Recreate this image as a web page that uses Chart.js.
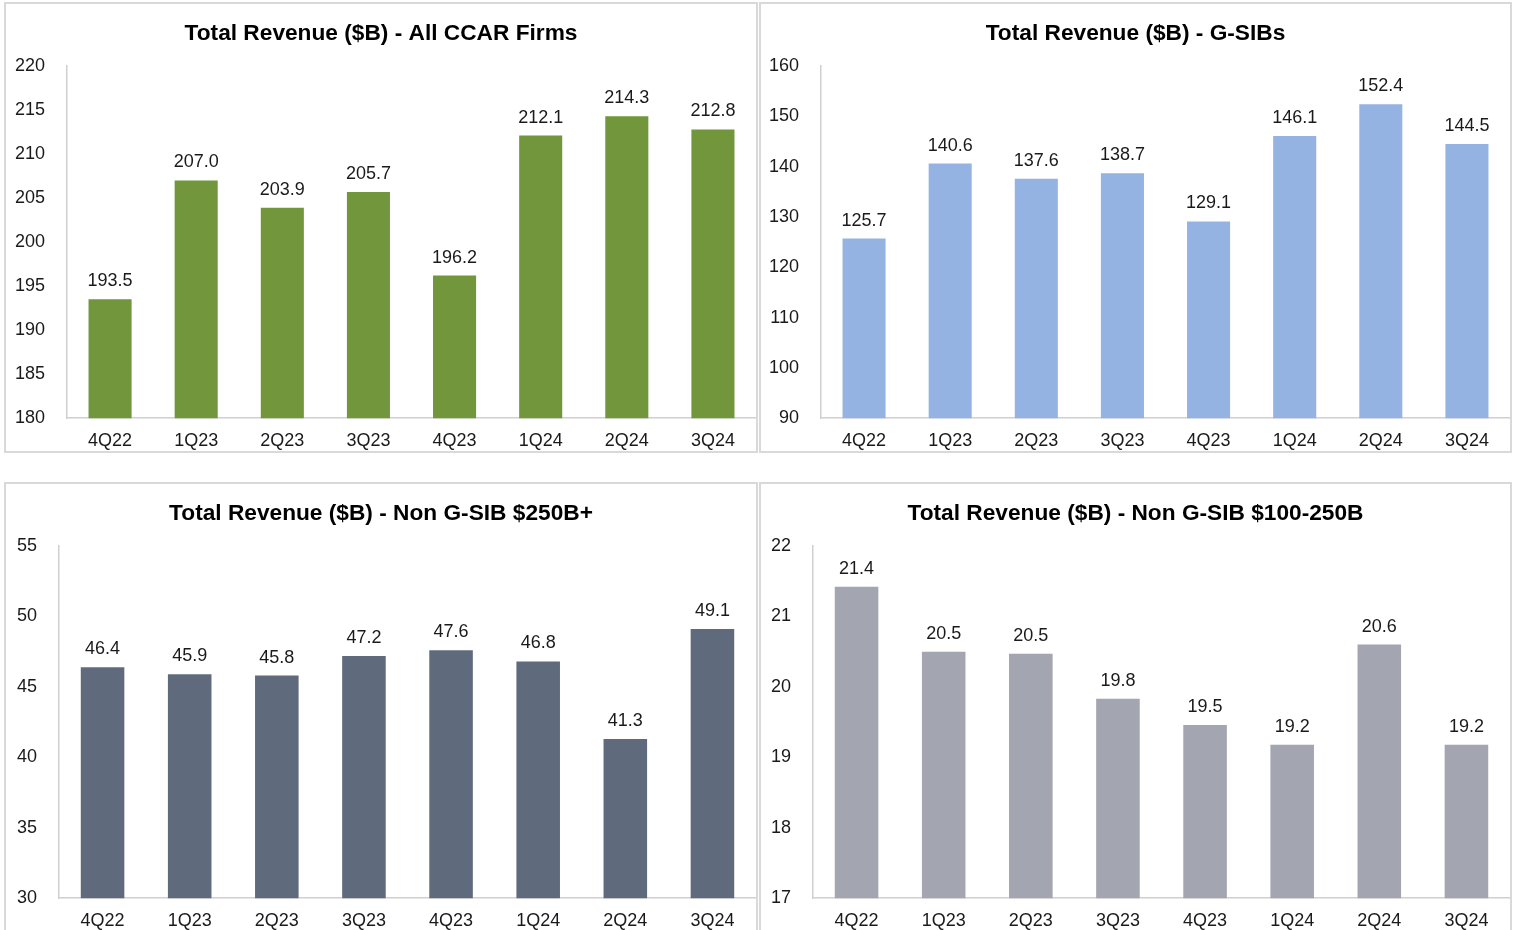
<!DOCTYPE html>
<html>
<head>
<meta charset="utf-8">
<script src="https://cdn.jsdelivr.net/npm/chart.js@4"></script>
<style>
  body { margin: 0; background: #fff; width: 1517px; height: 930px; overflow: hidden; position: relative; }
  .panel { position: absolute; border: 2px solid #d9d9d9; box-sizing: border-box; background: #fff; }
  .panel canvas { position: absolute; left: 0; top: 2px; }
</style>
</head>
<body>
<div class="panel" id="p1" style="left:4px;top:2px;width:754px;height:451px"><canvas id="c1" width="750" height="445"></canvas></div>
<div class="panel" id="p2" style="left:759px;top:2px;width:753px;height:451px"><canvas id="c2" width="749" height="445"></canvas></div>
<div class="panel" id="p3" style="left:4px;top:482px;width:754px;height:451px"><canvas id="c3" width="750" height="445"></canvas></div>
<div class="panel" id="p4" style="left:759px;top:482px;width:753px;height:451px"><canvas id="c4" width="749" height="445"></canvas></div>
<script>
let quarters = ["4Q22", "1Q23", "2Q23", "3Q23", "4Q23", "1Q24", "2Q24", "3Q24"]

let allCcar = [193.5, 207.0, 203.9, 205.7, 196.2, 212.1, 214.3, 212.8]
let gsibs = [125.7, 140.6, 137.6, 138.7, 129.1, 146.1, 152.4, 144.5]
let nonGsib250 = [46.4, 45.9, 45.8, 47.2, 47.6, 46.8, 41.3, 49.1]
let nonGsib100 = [21.42, 20.50, 20.47, 19.83, 19.46, 19.18, 20.60, 19.18]

let allCcarTicks = [180, 220, 5]
let gsibsTicks = [90, 160, 10]
let nonGsib250Ticks = [30, 55, 5]
let nonGsib100Ticks = [17, 22, 1]

let font = "'Liberation Sans', Arial, sans-serif"

// value labels above each bar
let barLabels = {
  id: "barLabels",
  afterDatasetsDraw(chart) {
    let ctx = chart.ctx
    let meta = chart.getDatasetMeta(0)
    let data = chart.data.datasets[0].data
    ctx.save()
    ctx.font = "18px " + font
    ctx.fillStyle = "#1a1a1a"
    ctx.textAlign = "center"
    ctx.textBaseline = "middle"
    meta.data.forEach((bar, i) => {
      ctx.fillText(data[i].toFixed(1), bar.x, bar.y - 18)
    })
    ctx.restore()
  }
}

function makeChart(id, title, values, ticks, color, axisLeft) {
  return new Chart(document.getElementById(id), {
    type: "bar",
    data: {
      labels: quarters,
      datasets: [{
        data: values,
        backgroundColor: color,
        barPercentage: 0.5,
        categoryPercentage: 1.0
      }]
    },
    options: {
      responsive: false,
      animation: false,
      devicePixelRatio: 1,
      layout: { padding: 0 },
      plugins: {
        legend: { display: false },
        tooltip: { enabled: false },
        title: {
          display: true,
          text: title,
          color: "#000",
          font: { family: font, size: 22.7, weight: "bold" },
          padding: { top: 14, bottom: 18.76 }
        }
      },
      scales: {
        x: {
          grid: { display: false, drawTicks: false },
          border: { display: true, color: "#d0d0d0", width: 1.5 },
          ticks: { color: "#1a1a1a", font: { family: font, size: 18 }, padding: 12, maxRotation: 0 },
          afterFit: (s) => { s.height = 32 }
        },
        y: {
          min: ticks[0],
          max: ticks[1],
          grid: { display: false, drawTicks: false },
          border: { display: true, color: "#d0d0d0", width: 1.5 },
          ticks: { stepSize: ticks[2], color: "#1a1a1a", font: { family: font, size: 18 }, padding: 22 },
          afterFit: (s) => { s.width = axisLeft }
        }
      }
    },
    plugins: [barLabels]
  })
}

makeChart("c1", "Total Revenue ($B) - All CCAR Firms", allCcar, allCcarTicks, "#71963c", 61)
makeChart("c2", "Total Revenue ($B) - G-SIBs", gsibs, gsibsTicks, "#95b3e2", 60)
makeChart("c3", "Total Revenue ($B) - Non G-SIB $250B+", nonGsib250, nonGsib250Ticks, "#5f6b7d", 53)
makeChart("c4", "Total Revenue ($B) - Non G-SIB $100-250B", nonGsib100, nonGsib100Ticks, "#a3a5b0", 52)
</script>
</body>
</html>
